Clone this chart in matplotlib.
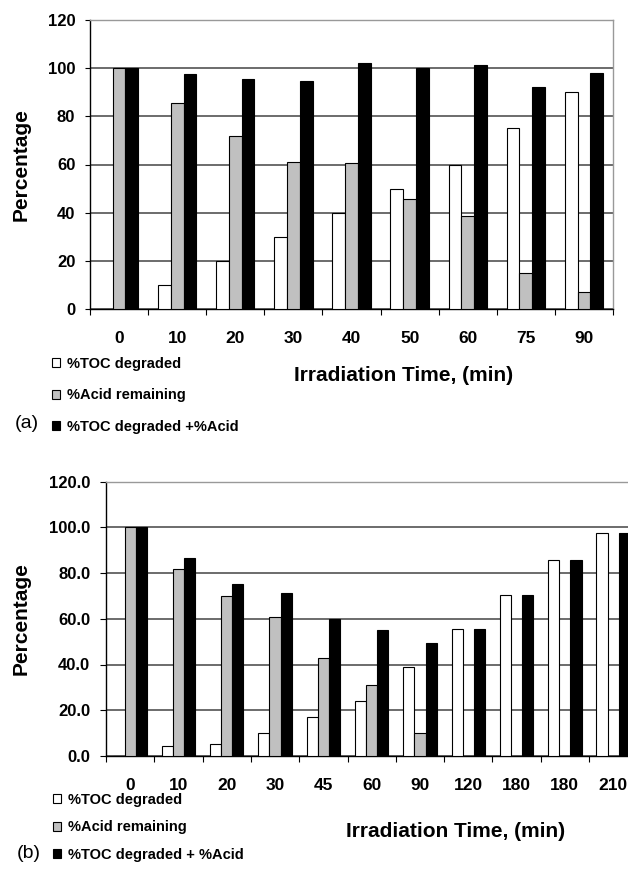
import numpy as np
import matplotlib.pyplot as plt
from matplotlib.patches import Patch

plt.rcParams['font.family'] = ['Liberation Sans', 'DejaVu Sans']

# panel (a)
times_a = ['0', '10', '20', '30', '40', '50', '60', '75', '90']
toc_a = [0, 10, 20, 30, 40, 50, 60, 75, 90]
acid_a = [100, 85.5, 72, 61, 60.5, 45.5, 38.5, 15, 7]
sum_a = [100, 97.7, 95.3, 94.5, 102, 100, 101.5, 92, 98]
yticks_a = ['0', '20', '40', '60', '80', '100', '120']

# panel (b)
times_b = ['0', '10', '20', '30', '45', '60', '90', '120', '180', '180', '210']
toc_b = [0, 4.5, 5.2, 10.2, 17.2, 24.2, 38.8, 55.5, 70.4, 85.8, 97.6]
acid_b = [100, 81.8, 70.1, 60.8, 42.7, 30.9, 10.2, 0, 0, 0, 0]
sum_b = [100, 86.4, 75.4, 71.1, 59.9, 55.0, 49.3, 55.5, 70.4, 85.8, 97.6]
yticks_b = ['0.0', '20.0', '40.0', '60.0', '80.0', '100.0', '120.0']

W, H = 628, 869
fig = plt.figure(figsize=(W / 100, H / 100), dpi=100)


def panel(rect, times, toc, acid, total, ylabels, w, ticklen):
    ax = fig.add_axes(rect)
    x = np.arange(len(times))
    ax.bar(x - w, toc, w, color='white', edgecolor='black', linewidth=0.8, zorder=3)
    ax.bar(x, acid, w, color='#c0c0c0', edgecolor='black', linewidth=0.8, zorder=3)
    ax.bar(x + w, total, w, color='black', edgecolor='black', linewidth=0.8, zorder=3)

    ax.set_xlim(-0.5, len(times) - 0.5)
    ax.set_ylim(0, 120)
    ax.set_yticks(np.arange(0, 121, 20))
    ax.set_yticklabels(ylabels, fontsize=12, fontweight='bold')
    ax.tick_params(axis='y', direction='out', length=ticklen, width=0.8, pad=7)
    ax.yaxis.grid(True, color='#444444', linewidth=1.1, zorder=0)
    ax.set_axisbelow(True)

    # ticks between groups, labels under groups
    ax.set_xticks(np.arange(-0.5, len(times), 1.0))
    ax.set_xticklabels([])
    ax.set_xticks(x, minor=True)
    ax.set_xticklabels(times, minor=True, fontsize=12.5, fontweight='bold')
    ax.tick_params(axis='x', which='major', direction='out', length=4.3, width=0.8)
    ax.tick_params(axis='x', which='minor', length=0, pad=15.5)

    for s in ['left', 'bottom']:
        ax.spines[s].set_color('black')
        ax.spines[s].set_linewidth(1.0)
    for s in ['top', 'right']:
        ax.spines[s].set_color('#999999')
        ax.spines[s].set_linewidth(1.0)
    return ax


def px_rect(l, t, r, b):
    return [l / W, 1 - b / H, (r - l) / W, (b - t) / H]


handles_style = [dict(facecolor='white'), dict(facecolor='#c0c0c0'), dict(facecolor='black')]

# (a)
ax1 = panel(px_rect(90, 20, 613, 309), times_a, toc_a, acid_a, sum_a, yticks_a, 0.22, 3.6)
ax1.set_ylabel('Percentage', fontsize=15, fontweight='bold')
ax1.yaxis.set_label_coords(-0.113, 0.5)
ax1.set_xlabel('Irradiation Time, (min)', fontsize=15, fontweight='bold')
ax1.xaxis.set_label_coords(0.600, -0.197)
labels_a = ['%TOC degraded', '%Acid remaining', '%TOC degraded +%Acid']
h = [Patch(edgecolor='black', linewidth=0.8, **st) for st in handles_style]
fig.legend(h, labels_a, loc='upper left', bbox_to_anchor=(52 / W, 1 - 357 / H),
           frameon=False, borderpad=0, borderaxespad=0, handlelength=0.55,
           handleheight=0.55, handletextpad=0.45, labelspacing=1.2,
           prop={'size': 10.5, 'weight': 'bold'})
fig.text(15 / W, 1 - 424 / H, '(a)', fontsize=14, va='center', ha='left')

# (b)
ax2 = panel(px_rect(106, 481.5, 637.3, 756), times_b, toc_b, acid_b, sum_b, yticks_b, 0.23, 4.3)
ax2.set_ylabel('Percentage', fontsize=15, fontweight='bold')
ax2.yaxis.set_label_coords(-0.141, 0.5)
ax2.set_xlabel('Irradiation Time, (min)', fontsize=15, fontweight='bold')
ax2.xaxis.set_label_coords(0.658, -0.240)
labels_b = ['%TOC degraded', '%Acid remaining', '%TOC degraded + %Acid']
h = [Patch(edgecolor='black', linewidth=0.8, **st) for st in handles_style]
fig.legend(h, labels_b, loc='upper left', bbox_to_anchor=(53 / W, 1 - 793 / H),
           frameon=False, borderpad=0, borderaxespad=0, handlelength=0.55,
           handleheight=0.55, handletextpad=0.45, labelspacing=0.92,
           prop={'size': 10.5, 'weight': 'bold'})
fig.text(17 / W, 1 - 854 / H, '(b)', fontsize=14, va='center', ha='left')

fig.savefig('out.png', dpi=100)
